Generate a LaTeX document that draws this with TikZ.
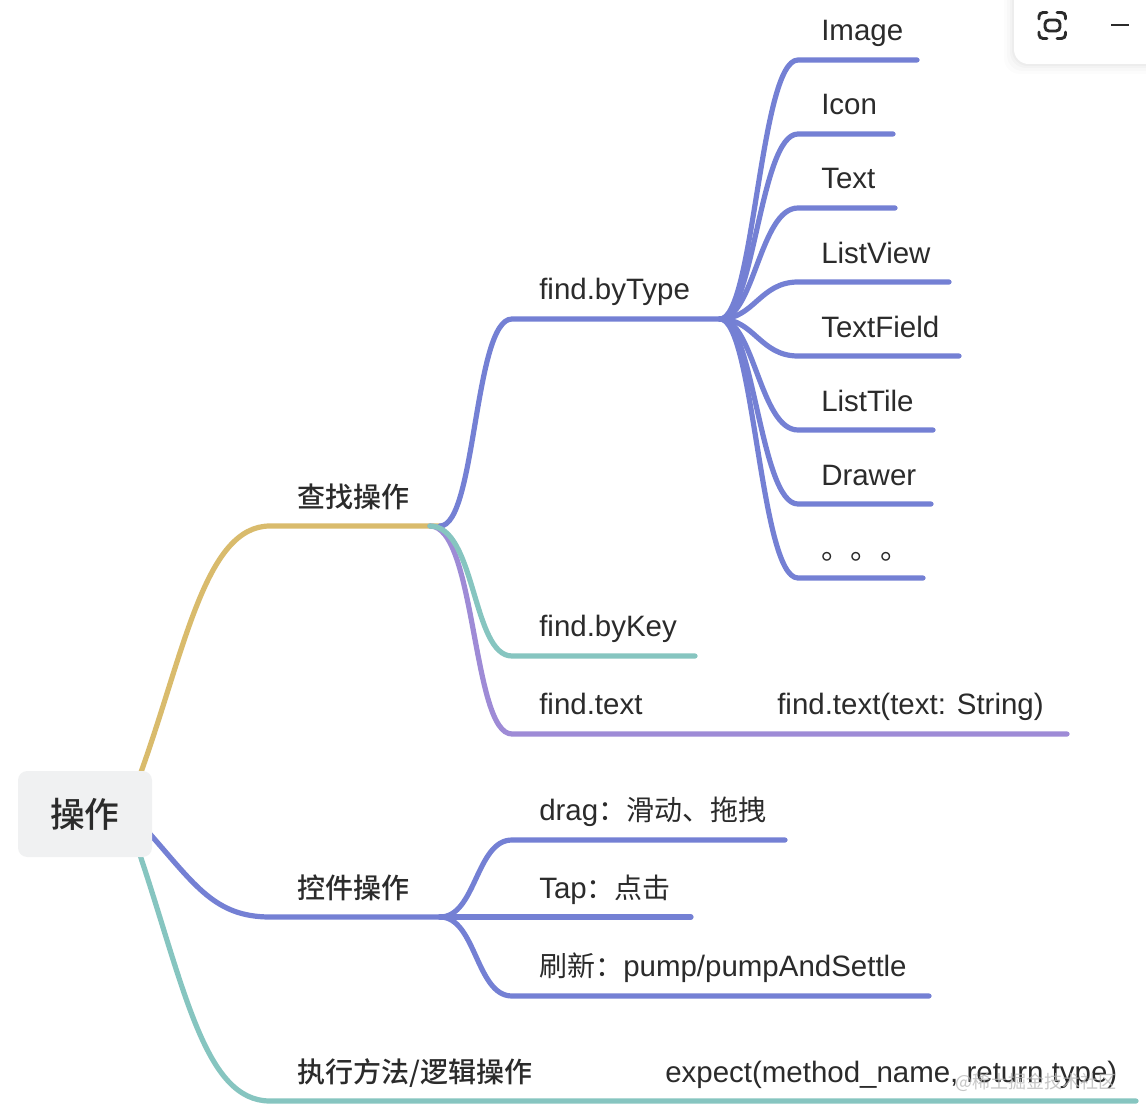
\documentclass[tikz,border=0pt]{standalone}
\usepackage{fontspec}
\setmainfont{Liberation Sans}
\newfontfamily\cjk{Noto Sans CJK SC}
\newfontfamily\cjkmed{Noto Sans CJK SC Medium}
\usetikzlibrary{calc}
\definecolor{ybranch}{HTML}{D9BB6C}
\definecolor{bbranch}{HTML}{7480D4}
\definecolor{tbranch}{HTML}{86C5C0}
\definecolor{pbranch}{HTML}{9E8BD6}
\definecolor{rootfill}{HTML}{F0F1F2}
\definecolor{inktext}{HTML}{2B2B2B}
\tikzset{
  branch/.style={line width=3.9pt,line cap=round,line join=round},
  leaftext/.style={anchor=base west,inner sep=0pt,text=inktext,font=\fontsize{22.1}{24}\selectfont},
  maintext/.style={anchor=base west,inner sep=0pt,text=inktext,font=\fontsize{21}{24}\selectfont\cjkmed},
  roottext/.style={rounded corners=7pt,fill=rootfill,minimum width=100.5pt,minimum height=64.5pt,inner sep=0pt,text=inktext,font=\fontsize{26}{30}\selectfont\cjkmed},
}
\begin{document}
\begin{tikzpicture}[x=0.75pt,y=-0.75pt]
\useasboundingbox (0,0) rectangle (1146,1120);
\clip (0,0) rectangle (1146,1120);
\fill[white] (0,0) rectangle (1146,1120);

\coordinate (rootup) at (140,775);
\coordinate (rootmid) at (150,834);
\coordinate (rootdown) at (140,855);
\coordinate (find) at (270,526);
\coordinate (findfork) at (440,526);
\coordinate (findteal) at (430,526);
\coordinate (ctrl) at (270,917);
\coordinate (ctrlfork) at (440,917);
\coordinate (expect) at (270,1101);
\coordinate (expectend) at (1136,1101);
\coordinate (bytype) at (512,319);
\coordinate (bytypefork) at (720,319);
\coordinate (bykey) at (512,656);
\coordinate (bykeyend) at (695,656);
\coordinate (bytext) at (512,734);
\coordinate (bytextend) at (1067,734);
\coordinate (drag) at (512,840);
\coordinate (dragend) at (785,840);
\coordinate (tapend) at (691,917);
\coordinate (pump) at (512,996);
\coordinate (pumpend) at (929,996);

% find.byType leaves
\foreach \leafname/\leafy/\leafend/\leaflabel in {
  image/60/917/Image,icon/134/893/Icon,text/208/895/Text,listview/282/949/ListView,
  textfield/356/959/TextField,listtile/430/933/ListTile,drawer/504/931/Drawer,dots/578/923/{\cjk 。。。}}{
  \coordinate (\leafname start) at (798,\leafy);
  \coordinate (\leafname end) at (\leafend,\leafy);
  \node[leaftext] (\leafname) at (821,\leafy-19) {\leaflabel};
  \draw[branch,bbranch] (bytypefork) .. controls +(34,0) and +(-38,0) .. (\leafname start) -- (\leafname end);
}

\draw[branch,ybranch] (rootup) .. controls (185,650) and (205,526) .. (find) -- (findfork);
\draw[branch,bbranch] (rootmid) .. controls (195,885) and (215,917) .. (ctrl) -- (ctrlfork);
\draw[branch,tbranch] (rootdown) .. controls (185,990) and (205,1101) .. (expect) -- (expectend);

\draw[branch,bbranch] (findfork) .. controls +(36,0) and +(-38,0) .. (bytype) -- (bytypefork);
\draw[branch,pbranch] (findteal) .. controls +(46,0) and +(-40,0) .. (bytext) -- (bytextend);
\draw[branch,tbranch] (findteal) .. controls +(46,0) and +(-40,0) .. (bykey) -- (bykeyend);

\draw[branch,bbranch] (ctrlfork) .. controls +(36,0) and +(-36,0) .. (drag) -- (dragend);
\draw[branch,bbranch] (ctrlfork) -- (tapend);
\draw[branch,bbranch] (ctrlfork) .. controls +(36,0) and +(-36,0) .. (pump) -- (pumpend);

\node[roottext] (root) at (85,814) {操作};

\node[maintext] (findlabel) at (297,507) {查找操作};
\node[maintext] (ctrllabel) at (297,898) {控件操作};
\node[maintext] (expectlabel) at (297,1082) {执行方法/逻辑操作};

\node[leaftext] (bytypelabel) at (539,299) {find.byType};
\node[leaftext] (bykeylabel) at (539,636) {find.byKey};
\node[leaftext] (bytextlabel) at (539,714) {find.text};
\node[leaftext] (textsig) at (777,714) {find.text(text: String)};
\node[leaftext] (draglabel) at (539,820) {drag{\cjk\fontsize{21}{24}\selectfont ：滑动、拖拽}};
\node[leaftext] (taplabel) at (539,898) {Tap{\cjk\fontsize{21}{24}\selectfont ：点击}};
\node[leaftext] (pumplabel) at (539,976) {{\cjk\fontsize{21}{24}\selectfont 刷新：}pump/pumpAndSettle};
\node[leaftext] (expectsig) at (665,1082) {expect(method\_name, return type)};

\node[anchor=base east,inner sep=0pt,text=gray!55,opacity=.8,font=\fontsize{13.5}{16}\selectfont\cjk] (mark) at (1117,1088) {@稀土掘金技术社区};

% window controls
\foreach \spread/\shade in {10/.012,7/.015,4/.02,2/.025}{
  \fill[black,opacity=\shade,rounded corners=12pt] (1014-\spread,-20) rectangle (1170,64+\spread);
}
\fill[white,rounded corners=11pt] (1014,-20) rectangle (1170,64);
\draw[line width=2.2pt,inktext,rounded corners=3pt] (1045,20) rectangle (1060,31);
\draw[line width=2.2pt,inktext,line cap=round,rounded corners=3pt] (1039,19) |- (1047,12.5);
\draw[line width=2.2pt,inktext,line cap=round,rounded corners=3pt] (1057,12.5) -| (1065.5,19);
\draw[line width=2.2pt,inktext,line cap=round,rounded corners=3pt] (1039,32) |- (1047,38.5);
\draw[line width=2.2pt,inktext,line cap=round,rounded corners=3pt] (1057,38.5) -| (1065.5,32);
\draw[line width=1.6pt,inktext] (1111,25) -- (1129,25);
\end{tikzpicture}
\end{document}
